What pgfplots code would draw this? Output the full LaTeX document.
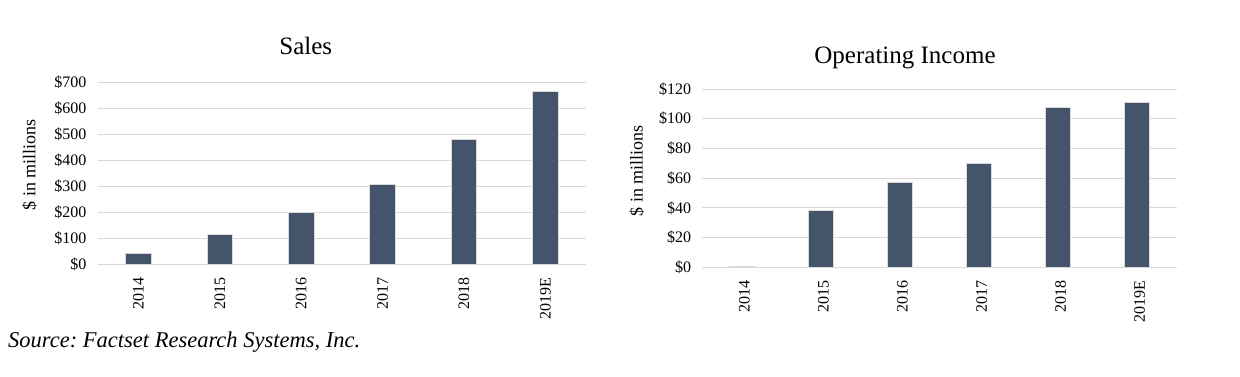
\documentclass[border=0pt]{standalone}
\usepackage{fontspec}
\setmainfont{Liberation Serif}
\usepackage{pgfplots}
\pgfplotsset{compat=1.18}
\definecolor{barc}{HTML}{44546A}
\definecolor{gridc}{HTML}{D9D9D9}
\pgfplotsset{
  mystyle/.style={
    scale only axis,
    ybar, bar width=25.5pt,
    xmin=-0.5, xmax=5.5,
    xtick={0,...,5},
    xticklabels={2014,2015,2016,2017,2018,2019E},
    axis line style={draw=none},
    tick style={draw=none},
    ymajorgrids, grid style={draw=gridc, line width=0.9pt},
    xticklabel style={font=\fontsize{16}{16}\selectfont, yshift=-8.5pt, rotate=90, anchor=east, inner sep=0pt},
    yticklabel style={font=\fontsize{16}{16}\selectfont, anchor=east, inner sep=0pt, xshift=-11pt},
  }
}
\begin{document}
\begin{tikzpicture}[x=1pt,y=1pt]
\path[use as bounding box] (0,0) rectangle (1240,376);
\begin{axis}[mystyle,
  at={(97.7pt,111.3pt)}, anchor=south west,
  width=488.3pt, height=182.7pt,
  ymin=0, ymax=700,
  ytick={0,100,...,700},
  yticklabels={\$0,\$100,\$200,\$300,\$400,\$500,\$600,\$700},
  ylabel={\$ in millions},
  ylabel style={at={(axis description cs:-0.1274,0.546)}, anchor=base, font=\fontsize{18}{18}\selectfont},
  title={Sales},
  title style={at={(axis description cs:0.4262,1.1188)}, anchor=base, font=\fontsize{25}{25}\selectfont},
]
\addplot[fill=barc, draw=gridc, line width=0.7pt] coordinates {(0,42) (1,114.5) (2,201) (3,308) (4,478.5) (5,663)};
\end{axis}
\begin{axis}[mystyle,
  at={(702.3pt,108.6pt)}, anchor=south west,
  width=474.4pt, height=178.4pt,
  bar width=25pt,
  ymin=0, ymax=120,
  ytick={0,20,...,120},
  yticklabels={\$0,\$20,\$40,\$60,\$80,\$100,\$120},
  ylabel={\$ in millions},
  ylabel style={at={(axis description cs:-0.126,0.541)}, anchor=base, font=\fontsize{18}{18}\selectfont},
  title={Operating Income},
  title style={at={(axis description cs:0.4273,1.1104)}, anchor=base, font=\fontsize{25}{25}\selectfont},
  xticklabel style={yshift=-2.5pt},
]
\addplot[fill=barc, draw=gridc, line width=0.7pt] coordinates {(0,0.5) (1,38.2) (2,57.3) (3,69.7) (4,107.4) (5,110.8)};
\end{axis}
\node[anchor=base west, inner sep=0pt, font=\itshape\fontsize{22.5}{22.5}\selectfont] at (8,29) {Source:\ Factset Research Systems, Inc.};
\end{tikzpicture}
\end{document}
